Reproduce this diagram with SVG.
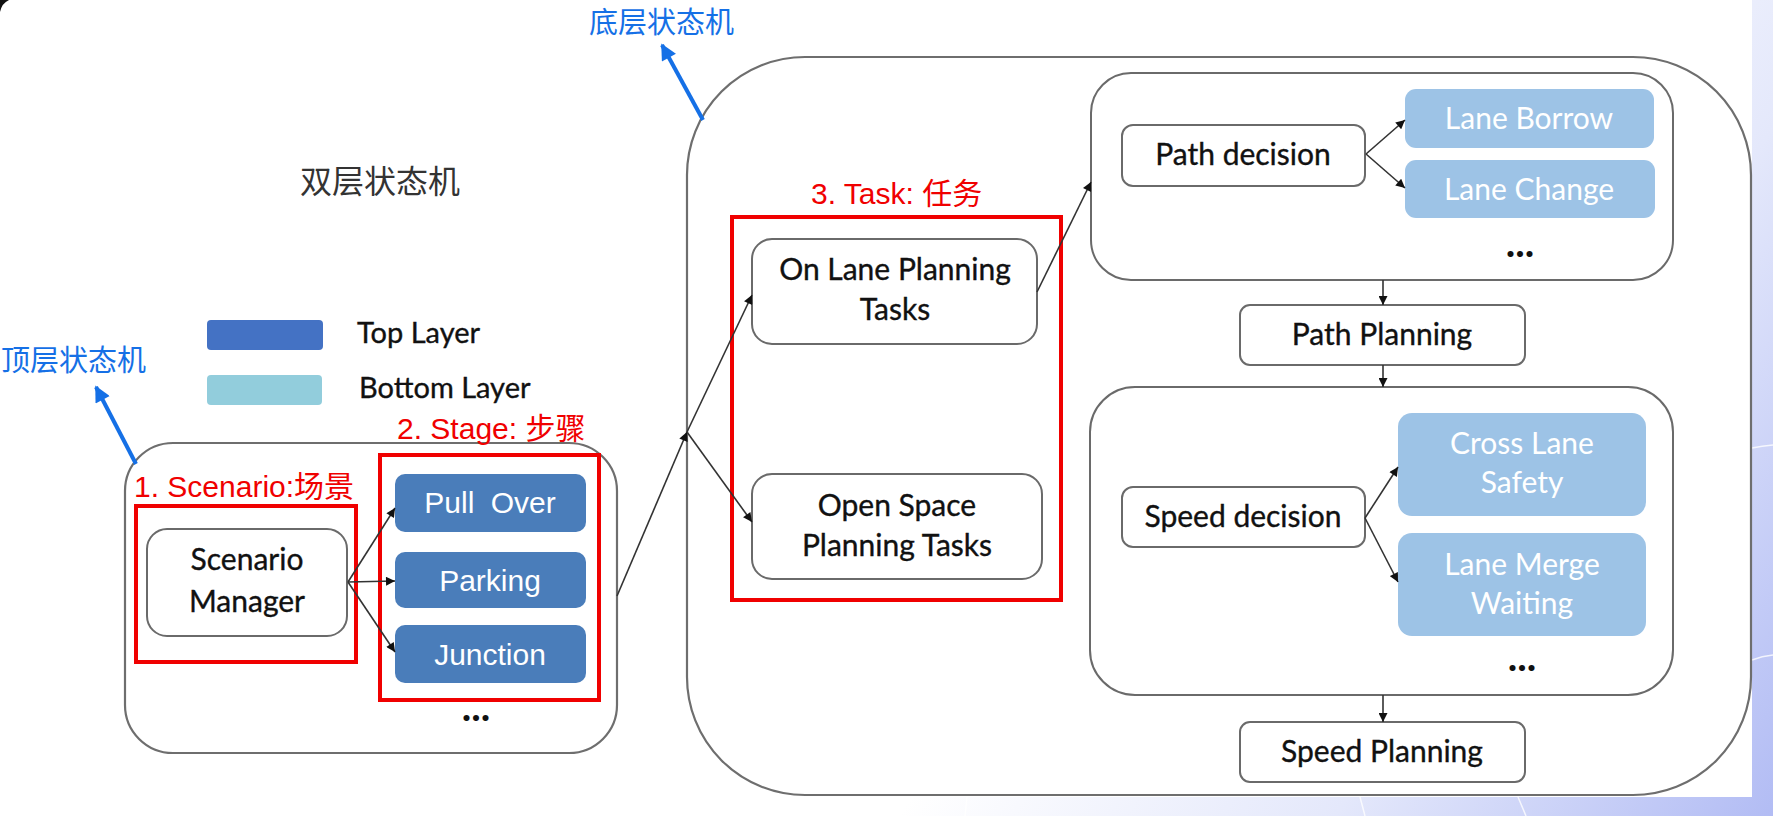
<svg xmlns="http://www.w3.org/2000/svg" width="1773" height="816" viewBox="0 0 1773 816">
<defs>
<linearGradient id="bg" gradientUnits="userSpaceOnUse" x1="1150" y1="420" x2="1773" y2="816">
<stop offset="0" stop-color="#ffffff"/>
<stop offset="0.5" stop-color="#e4e8fb"/>
<stop offset="1" stop-color="#b2bcf4"/>
</linearGradient>
<marker id="ah" viewBox="0 0 10 10" refX="10" refY="5" markerWidth="11" markerHeight="9" markerUnits="userSpaceOnUse" orient="auto">
<path d="M0,0 L10,5 L0,10 Z" fill="#111"/>
</marker>
<marker id="ab" viewBox="0 0 10 10" refX="9" refY="5" markerWidth="18" markerHeight="16" markerUnits="userSpaceOnUse" orient="auto">
<path d="M0,0 L10,5 L0,10 Z" fill="#1570e6"/>
</marker>
</defs>
<style>
.cont{fill:#fff;stroke:#6e6e6e;stroke-width:2.2}
.node{fill:#fff;stroke:#6a6a6a;stroke-width:2}
.red{fill:none;stroke:#f00000;stroke-width:4}
.dk{fill:#4a7dba}
.lt{fill:#9dc3e6}
.t{font-family:Lato,"Open Sans",sans-serif;font-size:30px;fill:#111;stroke:#111;stroke-width:0.35;text-anchor:middle}
.tw{font-family:Lato,"Open Sans",sans-serif;font-size:30px;fill:#fff;text-anchor:middle}
.ta{font-family:"Liberation Sans",Arial,sans-serif;font-size:30px;fill:#fff;text-anchor:middle}
.rl{font-family:"Liberation Sans","Noto Sans CJK SC",sans-serif;font-size:30px;fill:#f00000}
.bl{font-family:"Noto Sans CJK SC",sans-serif;font-size:29px;fill:#1570e6}
.dots{font-family:Lato,sans-serif;font-size:40px;font-weight:bold;fill:#111;text-anchor:middle}
.c{fill:none;stroke:#333;stroke-width:1.6;marker-end:url(#ah)}
.cb{fill:none;stroke:#1570e6;stroke-width:4;marker-end:url(#ab)}
</style>
<rect x="0" y="0" width="1773" height="816" fill="url(#bg)"/>
<g stroke="#ffffff" stroke-width="1.5" fill="none" opacity="0.8">
<path d="M1360,797 L1365,816"/>
<path d="M1518,797 L1526,816"/>
<path d="M967,797 L965,816"/>
<path d="M1752,660 Q1762,656 1773,655"/>
<path d="M1752,448 Q1762,446 1773,445"/>
</g>
<rect x="0" y="0" width="1752" height="797" fill="#fff"/>
<path d="M0,0 L9,0 Q2,3 0,12 Z" fill="#111"/>

<text x="380" y="193" style="font-family:'Noto Sans CJK SC',sans-serif;font-size:32px;fill:#333;text-anchor:middle">双层状态机</text>

<g id="legend">
<rect x="207" y="320" width="116" height="30" rx="4" fill="#4472c4"/>
<rect x="207" y="375" width="115" height="30" rx="4" fill="#92cddc"/>
<text x="357" y="343" style="font-family:Lato,sans-serif;font-size:29px;fill:#111;stroke:#111;stroke-width:0.35">Top Layer</text>
<text x="359" y="398" style="font-family:Lato,sans-serif;font-size:29px;fill:#111;stroke:#111;stroke-width:0.35">Bottom Layer</text>
</g>

<text class="bl" x="1" y="371">顶层状态机</text>
<text class="bl" x="589" y="33">底层状态机</text>

<g id="top-layer">
<rect class="cont" x="125" y="443" width="492" height="310" rx="48"/>
</g>
<g id="bottom-layer">
<rect class="cont" x="687" y="57" width="1064" height="738" rx="118"/>
</g>

<g id="scenario-group">
<rect class="red" x="136" y="506" width="220" height="156"/>
<text class="rl" x="134" y="497">1. Scenario:场景</text>
</g>
<g id="scenario-manager">
<rect class="node" x="147" y="529" width="200" height="107" rx="20"/>
<text class="t" x="247" y="570">Scenario</text>
<text class="t" x="247" y="612">Manager</text>
</g>

<g id="stage-group">
<rect class="red" x="380" y="455" width="219" height="245"/>
<text class="rl" x="397" y="439">2. Stage: 步骤</text>
<text class="dots" x="476" y="721">...</text>
</g>
<g id="pull-over">
<rect class="dk" x="395" y="474" width="191" height="58" rx="10"/>
<text class="ta" x="490" y="513" style="word-spacing:8px">Pull Over</text>
</g>
<g id="parking">
<rect class="dk" x="395" y="552" width="191" height="56" rx="10"/>
<text class="ta" x="490" y="591">Parking</text>
</g>
<g id="junction">
<rect class="dk" x="395" y="625" width="191" height="58" rx="10"/>
<text class="ta" x="490" y="665">Junction</text>
</g>

<g id="task-group">
<rect class="red" x="732" y="217" width="329" height="383"/>
<text class="rl" x="811" y="204">3. Task: 任务</text>
</g>
<g id="on-lane">
<rect class="node" x="752" y="239" width="285" height="105" rx="20"/>
<text class="t" x="895" y="280">On Lane Planning</text>
<text class="t" x="895" y="320">Tasks</text>
</g>
<g id="open-space">
<rect class="node" x="752" y="474" width="290" height="105" rx="20"/>
<text class="t" x="897" y="516">Open Space</text>
<text class="t" x="897" y="556">Planning Tasks</text>
</g>

<g id="path-group">
<rect class="node" x="1091" y="73" width="582" height="207" rx="40"/>
<text class="dots" x="1520" y="257">...</text>
</g>
<g id="path-decision">
<rect class="node" x="1122" y="125" width="243" height="61" rx="11"/>
<text class="t" x="1243" y="165">Path decision</text>
</g>
<g id="lane-borrow">
<rect class="lt" x="1405" y="89" width="249" height="59" rx="11"/>
<text class="tw" x="1529" y="129">Lane Borrow</text>
</g>
<g id="lane-change">
<rect class="lt" x="1405" y="160" width="250" height="58" rx="11"/>
<text class="tw" x="1529" y="200">Lane Change</text>
</g>

<g id="path-planning">
<rect class="node" x="1240" y="305" width="285" height="60" rx="10"/>
<text class="t" x="1382" y="345">Path Planning</text>
</g>

<g id="speed-group">
<rect class="node" x="1090" y="387" width="583" height="308" rx="45"/>
<text class="dots" x="1522" y="671">...</text>
</g>
<g id="speed-decision">
<rect class="node" x="1122" y="487" width="243" height="60" rx="11"/>
<text class="t" x="1243" y="527">Speed decision</text>
</g>
<g id="cross-lane">
<rect class="lt" x="1398" y="413" width="248" height="103" rx="14"/>
<text class="tw" x="1522" y="454">Cross Lane</text>
<text class="tw" x="1522" y="493">Safety</text>
</g>
<g id="lane-merge">
<rect class="lt" x="1398" y="533" width="248" height="103" rx="14"/>
<text class="tw" x="1522" y="575">Lane Merge</text>
<text class="tw" x="1522" y="614">Waiting</text>
</g>

<g id="speed-planning">
<rect class="node" x="1240" y="722" width="285" height="60" rx="10"/>
<text class="t" x="1382" y="762">Speed Planning</text>
</g>

<g id="connectors">
<path class="c" d="M348,582 L395,508"/>
<path class="c" d="M348,582 L395,581"/>
<path class="c" d="M348,582 L395,652"/>
<path class="c" d="M617,596 L687,432"/>
<path class="c" d="M687,432 L752,295"/>
<path class="c" d="M687,432 L752,522"/>
<path class="c" d="M1037,292 L1091,182"/>
<path class="c" d="M1366,154 L1405,120"/>
<path class="c" d="M1366,154 L1405,188"/>
<path class="c" d="M1383,280 L1383,305"/>
<path class="c" d="M1383,365 L1383,387"/>
<path class="c" d="M1365,518 L1398,467"/>
<path class="c" d="M1365,518 L1398,582"/>
<path class="c" d="M1383,695 L1383,722"/>
<path class="cb" d="M136,464 L96,387"/>
<path class="cb" d="M703,120 L662,45"/>
</g>
</svg>
